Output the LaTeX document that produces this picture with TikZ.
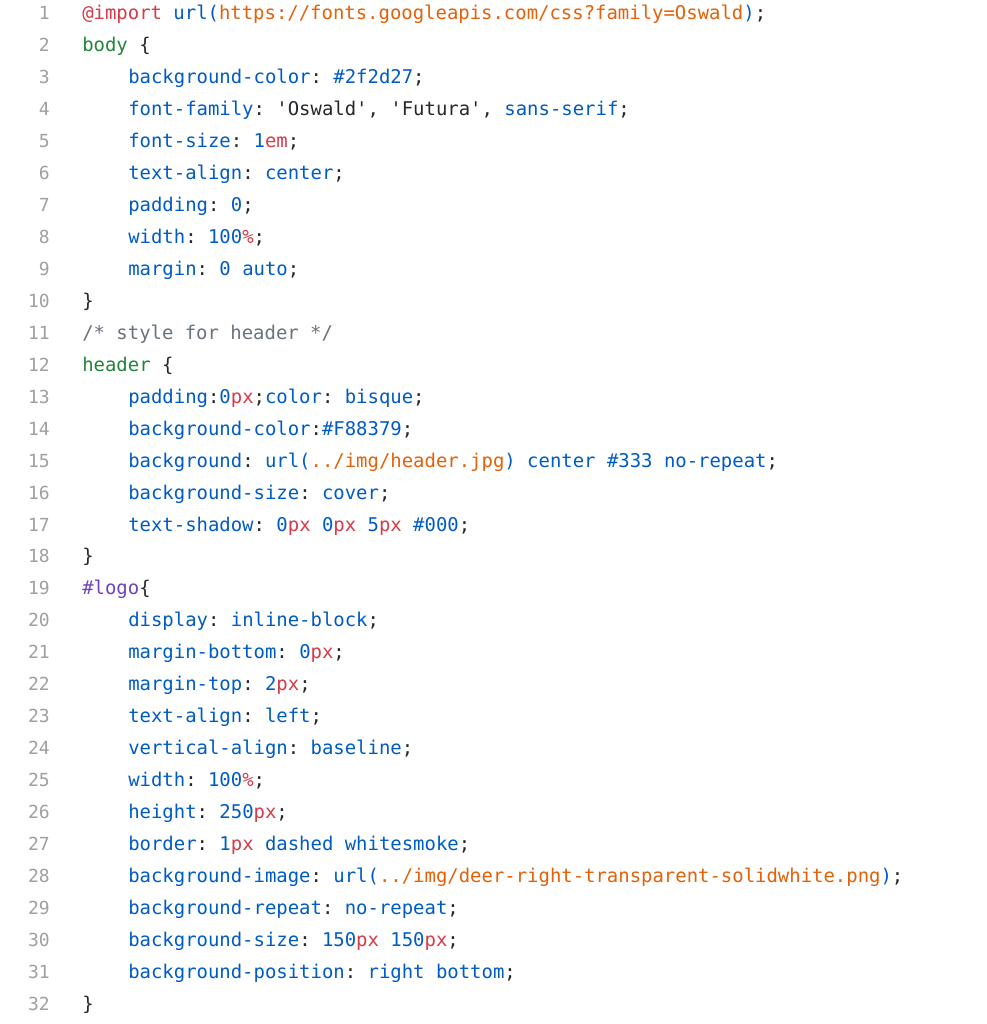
\documentclass[tikz,border=0pt]{standalone}
\usepackage{fontspec}
\setmonofont{DejaVu Sans Mono}
\definecolor{rd}{HTML}{D73A49}
\definecolor{bl}{HTML}{005CC5}
\definecolor{gr}{HTML}{22863A}
\definecolor{pu}{HTML}{6F42C1}
\definecolor{og}{HTML}{E36209}
\definecolor{tx}{HTML}{24292E}
\definecolor{cm}{HTML}{6A737D}
\definecolor{ln}{HTML}{A0A0A0}
\newcommand\cR[1]{\textcolor{rd}{#1}}
\newcommand\cB[1]{\textcolor{bl}{#1}}
\newcommand\cG[1]{\textcolor{gr}{#1}}
\newcommand\cP[1]{\textcolor{pu}{#1}}
\newcommand\cO[1]{\textcolor{og}{#1}}
\newcommand\cC[1]{\textcolor{cm}{#1}}
\newcommand\Yc[1]{{19.5+(#1-1)*31.97}}
\tikzset{code/.style={anchor=base west,inner sep=0pt,font=\ttfamily\fontsize{14.2}{16}\selectfont,text=tx},
num/.style={anchor=base east,inner sep=0pt,font=\ttfamily\fontsize{13.5}{16}\selectfont,text=ln}}
\begin{document}
\begin{tikzpicture}[x=0.75pt,y=-0.75pt]
\fill[white] (0,0) rectangle (986,1024);
\useasboundingbox (0,0) rectangle (986,1024);
\foreach \i in {1,...,32} { \node[num] (n\i) at (50,{19.5+(\i-1)*31.97}) {\i}; }
\node[code] (l1) at (82,\Yc{1}) {\cR{@import} \cB{url(}\cO{https://fonts.googleapis.com/css?family=Oswald}\cB{)};};
\node[code] (l2) at (82,\Yc{2}) {\cG{body} \{};
\node[code] (l3) at (128,\Yc{3}) {\cB{background-color}: \cB{\#2f2d27};};
\node[code] (l4) at (128,\Yc{4}) {\cB{font-family}: 'Oswald', 'Futura', \cB{sans-serif};};
\node[code] (l5) at (128,\Yc{5}) {\cB{font-size}: \cB{1}\cR{em};};
\node[code] (l6) at (128,\Yc{6}) {\cB{text-align}: \cB{center};};
\node[code] (l7) at (128,\Yc{7}) {\cB{padding}: \cB{0};};
\node[code] (l8) at (128,\Yc{8}) {\cB{width}: \cB{100}\cR{\%};};
\node[code] (l9) at (128,\Yc{9}) {\cB{margin}: \cB{0 auto};};
\node[code] (l10) at (82,\Yc{10}) {\}};
\node[code] (l11) at (82,\Yc{11}) {\cC{/* style for header */}};
\node[code] (l12) at (82,\Yc{12}) {\cG{header} \{};
\node[code] (l13) at (128,\Yc{13}) {\cB{padding}:\cB{0}\cR{px};\cB{color}: \cB{bisque};};
\node[code] (l14) at (128,\Yc{14}) {\cB{background-color}:\cB{\#F88379};};
\node[code] (l15) at (128,\Yc{15}) {\cB{background}: \cB{url(}\cO{../img/header.jpg}\cB{) center \#333 no-repeat};};
\node[code] (l16) at (128,\Yc{16}) {\cB{background-size}: \cB{cover};};
\node[code] (l17) at (128,\Yc{17}) {\cB{text-shadow}: \cB{0}\cR{px} \cB{0}\cR{px} \cB{5}\cR{px} \cB{\#000};};
\node[code] (l18) at (82,\Yc{18}) {\}};
\node[code] (l19) at (82,\Yc{19}) {\cP{\#logo}\{};
\node[code] (l20) at (128,\Yc{20}) {\cB{display}: \cB{inline-block};};
\node[code] (l21) at (128,\Yc{21}) {\cB{margin-bottom}: \cB{0}\cR{px};};
\node[code] (l22) at (128,\Yc{22}) {\cB{margin-top}: \cB{2}\cR{px};};
\node[code] (l23) at (128,\Yc{23}) {\cB{text-align}: \cB{left};};
\node[code] (l24) at (128,\Yc{24}) {\cB{vertical-align}: \cB{baseline};};
\node[code] (l25) at (128,\Yc{25}) {\cB{width}: \cB{100}\cR{\%};};
\node[code] (l26) at (128,\Yc{26}) {\cB{height}: \cB{250}\cR{px};};
\node[code] (l27) at (128,\Yc{27}) {\cB{border}: \cB{1}\cR{px} \cB{dashed whitesmoke};};
\node[code] (l28) at (128,\Yc{28}) {\cB{background-image}: \cB{url(}\cO{../img/deer-right-transparent-solidwhite.png}\cB{)};};
\node[code] (l29) at (128,\Yc{29}) {\cB{background-repeat}: \cB{no-repeat};};
\node[code] (l30) at (128,\Yc{30}) {\cB{background-size}: \cB{150}\cR{px} \cB{150}\cR{px};};
\node[code] (l31) at (128,\Yc{31}) {\cB{background-position}: \cB{right bottom};};
\node[code] (l32) at (82,\Yc{32}) {\}};
\end{tikzpicture}
\end{document}
